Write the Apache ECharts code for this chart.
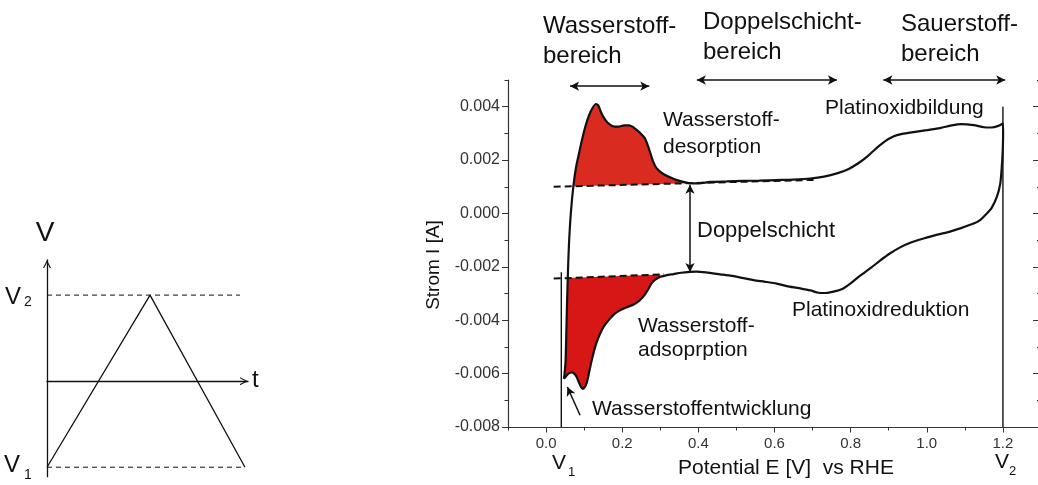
<!DOCTYPE html>
<html>
<head>
<meta charset="utf-8">
<title>Zyklovoltammogramm Platin</title>
<script src="https://cdn.jsdelivr.net/npm/echarts@6/dist/echarts.min.js"></script>
<style>
  html, body { margin: 0; padding: 0; overflow: hidden; background: #ffffff; }
  #chart { width: 1041px; height: 485px; }
</style>
</head>
<body>
<div id="chart"></div>
<script>
// ---- Cyclic voltammogram of Pt: potential E [V vs RHE], current I [A] ----

// forward (anodic) sweep from V1 up to V2
const anodicScan = [
  [0.047, -0.0062], [0.051, -0.0056], [0.053, -0.0046], [0.055, -0.0034], [0.057, -0.0024],
  [0.060, -0.0012], [0.065, 0.0000], [0.072, 0.00106], [0.079, 0.00175], [0.087, 0.00228],
  [0.095, 0.0028], [0.103, 0.00325], [0.112, 0.00365], [0.122, 0.00395], [0.131, 0.0041],
  [0.137, 0.00405], [0.144, 0.0038], [0.152, 0.00358], [0.162, 0.0034], [0.175, 0.00327],
  [0.190, 0.00325], [0.205, 0.0033], [0.218, 0.0033], [0.232, 0.0032], [0.246, 0.00303],
  [0.258, 0.00285], [0.266, 0.0026], [0.273, 0.0023], [0.281, 0.00195], [0.290, 0.0017],
  [0.302, 0.00154], [0.318, 0.0014], [0.336, 0.00129], [0.355, 0.0012], [0.375, 0.00114],
  [0.400, 0.00113], [0.431, 0.00118], [0.475, 0.0012], [0.518, 0.00122], [0.560, 0.00123],
  [0.606, 0.00125], [0.650, 0.00127], [0.694, 0.00131], [0.730, 0.00138], [0.764, 0.0015],
  [0.795, 0.00167], [0.820, 0.00188], [0.845, 0.00215], [0.868, 0.00245], [0.890, 0.0027],
  [0.912, 0.00288], [0.935, 0.00298], [0.965, 0.00305], [1.000, 0.00312], [1.035, 0.0032],
  [1.065, 0.0033], [1.090, 0.00335], [1.123, 0.00331], [1.150, 0.00323], [1.170, 0.00322],
  [1.188, 0.00328], [1.200, 0.00337]
];

// reverse (cathodic) sweep from V2 back down to V1
const cathodicScan = [
  [1.2005, 0.0030], [1.1995, 0.00237], [1.197, 0.00175], [1.193, 0.00112], [1.184, 0.00062],
  [1.170, 0.0002], [1.158, 0.0000], [1.140, -0.00025], [1.123, -0.00038], [1.090, -0.00055],
  [1.061, -0.00068], [1.025, -0.0008], [0.991, -0.00094], [0.960, -0.00108], [0.930, -0.00127],
  [0.903, -0.0015], [0.878, -0.00176], [0.852, -0.00205], [0.825, -0.00233], [0.800, -0.00262],
  [0.778, -0.00283], [0.755, -0.00293], [0.735, -0.00298], [0.715, -0.00297], [0.694, -0.00288],
  [0.665, -0.0028], [0.632, -0.00272], [0.606, -0.00263], [0.575, -0.00256], [0.545, -0.0025],
  [0.518, -0.00242], [0.488, -0.00234], [0.457, -0.00228], [0.420, -0.00221], [0.395, -0.00218],
  [0.378, -0.00219], [0.355, -0.00222], [0.335, -0.00227], [0.315, -0.00232], [0.300, -0.00237],
  [0.287, -0.00248], [0.277, -0.00262], [0.268, -0.00285], [0.258, -0.00307], [0.245, -0.00327],
  [0.229, -0.00342], [0.210, -0.00352], [0.194, -0.00363], [0.180, -0.00376], [0.168, -0.00394],
  [0.156, -0.00415], [0.146, -0.00438], [0.137, -0.00467], [0.129, -0.005], [0.122, -0.00538],
  [0.116, -0.00575], [0.111, -0.0061], [0.106, -0.00638], [0.101, -0.00652], [0.096, -0.00657],
  [0.091, -0.00648], [0.086, -0.00632], [0.080, -0.00612], [0.074, -0.006], [0.068, -0.00595],
  [0.061, -0.00598], [0.054, -0.00607], [0.047, -0.0062]
];

// double-layer charging baselines (dashed)
const upperBaseline = [[0.020, 0.00100], [0.710, 0.00126]];
const lowerBaseline = [[0.020, -0.00244], [0.310, -0.00228]];

// vertex potentials V1 and V2 [V]
const vertexPotentials = [0.04, 1.2];
const vertexMarkerTops = [-0.0022, 0.004];

// axis tick labels
const potentialTicks = [0, 0.2, 0.4, 0.6, 0.8, 1.0, 1.2];
const currentTicks = [-0.008, -0.006, -0.004, -0.002, 0, 0.002, 0.004];

// triangular potential program V(t), V1 = -1, V2 = +1 (schematic units)
const triangleWave = [[0, -1], [1.025, 1], [1.97, -1]];
const upperLevel = [[0, 1], [1.92, 1]];
const lowerLevel = [[0, -1], [1.97, -1]];

// ---------------------------------------------------------------------------
const FONT = "'Liberation Sans', Arial, Helvetica, sans-serif";
const INK = '#111111';
const AXIS = '#333333';

function baselineAt(line, x) {
  const [[x0, y0], [x1, y1]] = line;
  return y0 + (y1 - y0) * (x - x0) / (x1 - x0);
}

// hydrogen desorption area (above the upper baseline)
const desorptionArea = anodicScan
  .filter(p => p[0] >= 0.072 && p[0] <= 0.375)
  .concat([[0.375, baselineAt(upperBaseline, 0.375)], [0.072, baselineAt(upperBaseline, 0.072)]]);

// hydrogen adsorption area (below the lower baseline)
const adsorptionArea = [[0.057, baselineAt(lowerBaseline, 0.057)], [0.300, baselineAt(lowerBaseline, 0.300)]]
  .concat(cathodicScan.filter(p => p[0] <= 0.3001))
  .concat(anodicScan.filter(p => p[0] > 0.047 && p[1] < -0.0025));

function areaSeries(points, color) {
  return {
    type: 'custom', xAxisIndex: 0, yAxisIndex: 0, z: 1, silent: true,
    data: [[points[0][0], points[0][1]]],
    renderItem(params, api) {
      return {
        type: 'polygon',
        shape: { points: points.map(p => api.coord(p)) },
        style: { fill: color, stroke: null }
      };
    }
  };
}

const chevron = 'path://M0,10 L5,0 L10,10 L8.5,10 L5,3 L1.5,10 Z';

function text(str, x, y, size, extra) {
  return Object.assign({
    type: 'text', x: x, y: y, silent: true, z: 100,
    style: { text: str, fontSize: size, fontFamily: FONT, fill: INK, align: 'left', verticalAlign: 'middle' }
  }, extra || {});
}

const isEven = v => Math.round(v * 1000) % 2 === 0;

const option = {
  animation: false,
  backgroundColor: '#ffffff',
  grid: [
    { left: 508, top: 80, right: 0, bottom: 58, outerBoundsMode: 'none', containLabel: false },
    { left: 47, top: 260, width: 201, bottom: 8.3, outerBoundsMode: 'none', containLabel: false }
  ],
  xAxis: [
    { // potential axis: all 0.1 V ticks + labels
      gridIndex: 0, type: 'value', min: -0.1, max: 1.3, interval: 0.1, position: 'bottom',
      axisLine: { show: true, onZero: false, lineStyle: { color: AXIS, width: 1.2 } },
      axisTick: { show: true, inside: false, length: 3.5, lineStyle: { color: AXIS, width: 1 } },
      axisLabel: {
        show: true, margin: 9, fontSize: 15, fontFamily: FONT, color: AXIS,
        formatter: v => {
          const k = Math.round(v * 10);
          return (k >= 0 && k <= 12 && k % 2 === 0) ? (k / 10).toFixed(1) : '';
        }
      },
      splitLine: { show: false }, minorTick: { show: false }
    },
    { // major potential ticks
      gridIndex: 0, type: 'value', min: -0.1, max: 1.3, position: 'bottom',
      axisLine: { show: false, onZero: false },
      axisTick: { show: true, inside: false, length: 5.5, customValues: potentialTicks, lineStyle: { color: AXIS, width: 1 } },
      axisLabel: { show: false }, splitLine: { show: false }
    },
    { // time axis of the potential program
      gridIndex: 1, type: 'value', min: 0, max: 2,
      axisLine: {
        show: true, onZero: true, symbol: ['none', chevron], symbolSize: [10, 8], symbolOffset: [0, -4],
        lineStyle: { color: INK, width: 1.3 }
      },
      axisTick: { show: false }, axisLabel: { show: false }, splitLine: { show: false }
    }
  ],
  yAxis: [
    { // current axis: all 0.001 A ticks + labels
      gridIndex: 0, type: 'value', min: -0.008, max: 0.005, interval: 0.001, position: 'left',
      axisLine: { show: true, onZero: false, lineStyle: { color: AXIS, width: 1.2 } },
      axisTick: { show: true, inside: false, length: 3.5, lineStyle: { color: AXIS, width: 1 } },
      axisLabel: {
        show: true, margin: 8, fontSize: 16, fontFamily: FONT, color: AXIS,
        formatter: v => (isEven(v) && v < 0.0045) ? v.toFixed(3) : ''
      },
      splitLine: { show: false }
    },
    { // major current ticks
      gridIndex: 0, type: 'value', min: -0.008, max: 0.005, position: 'left',
      axisLine: { show: false, onZero: false },
      axisTick: { show: true, inside: false, length: 6, customValues: currentTicks, lineStyle: { color: AXIS, width: 1 } },
      axisLabel: { show: false }, splitLine: { show: false }
    },
    { // right frame, minor ticks
      gridIndex: 0, type: 'value', min: -0.008, max: 0.005, interval: 0.001, position: 'right',
      axisLine: { show: true, onZero: false, lineStyle: { color: AXIS, width: 1.2 } },
      axisTick: { show: true, inside: true, length: 4, lineStyle: { color: AXIS, width: 1 } },
      axisLabel: { show: false }, splitLine: { show: false }
    },
    { // right frame, major ticks
      gridIndex: 0, type: 'value', min: -0.008, max: 0.005, position: 'right',
      axisLine: { show: false, onZero: false },
      axisTick: { show: true, inside: true, length: 8, customValues: currentTicks, lineStyle: { color: AXIS, width: 1 } },
      axisLabel: { show: false }, splitLine: { show: false }
    },
    { // potential axis of the program V(t)
      gridIndex: 1, type: 'value', min: -1.11, max: 1.408,
      axisLine: {
        show: true, onZero: false, symbol: ['none', chevron], symbolSize: [10, 8], symbolOffset: [0, -4],
        lineStyle: { color: INK, width: 1.3 }
      },
      axisTick: { show: false }, axisLabel: { show: false }, splitLine: { show: false }
    }
  ],
  series: [
    areaSeries(desorptionArea, '#d92b1f'),
    areaSeries(adsorptionArea, '#d71616'),
    {
      name: 'Baseline oben', type: 'line', xAxisIndex: 0, yAxisIndex: 0, z: 3,
      data: upperBaseline, symbol: 'none', silent: true,
      lineStyle: { color: INK, width: 2, type: [7, 4] }
    },
    {
      name: 'Baseline unten', type: 'line', xAxisIndex: 0, yAxisIndex: 0, z: 3,
      data: lowerBaseline, symbol: 'none', silent: true,
      lineStyle: { color: INK, width: 2, type: [7, 4] }
    },
    {
      name: 'CV', type: 'line', xAxisIndex: 0, yAxisIndex: 0, z: 4,
      data: anodicScan.concat(cathodicScan), symbol: 'none', smooth: 0.25, silent: true,
      lineStyle: { color: INK, width: 2.2 }
    },
    {
      name: 'V1', type: 'line', xAxisIndex: 0, yAxisIndex: 0, z: 2,
      data: [[vertexPotentials[0], -0.008], [vertexPotentials[0], vertexMarkerTops[0]]],
      symbol: 'none', silent: true, lineStyle: { color: INK, width: 1.4 },
      markLine: {
        silent: true, symbol: ['arrow', 'arrow'], symbolSize: [7, 9],
        lineStyle: { type: 'solid', color: INK, width: 1.5 },
        label: { show: false }, emphasis: { disabled: true },
        data: [
          [{ coord: [0.063, 0.00477] }, { coord: [0.271, 0.00477] }],
          [{ coord: [0.396, 0.005] }, { coord: [0.764, 0.005] }],
          [{ coord: [0.886, 0.005] }, { coord: [1.206, 0.005] }],
          [{ coord: [0.378, 0.00108] }, { coord: [0.378, -0.00219] }],
          [{ coord: [0.0893, -0.00756], symbol: 'none' }, { coord: [0.056, -0.0065], symbol: 'arrow' }]
        ]
      }
    },
    {
      name: 'V2', type: 'line', xAxisIndex: 0, yAxisIndex: 0, z: 2,
      data: [[vertexPotentials[1], -0.008], [vertexPotentials[1], vertexMarkerTops[1]]],
      symbol: 'none', silent: true, lineStyle: { color: INK, width: 1.4 }
    },
    {
      name: 'V(t)', type: 'line', xAxisIndex: 2, yAxisIndex: 4,
      data: triangleWave, symbol: 'none', silent: true, lineStyle: { color: INK, width: 1.3 }
    },
    {
      name: 'V2-Niveau', type: 'line', xAxisIndex: 2, yAxisIndex: 4,
      data: upperLevel, symbol: 'none', silent: true, lineStyle: { color: INK, width: 1, type: [5, 4] }
    },
    {
      name: 'V1-Niveau', type: 'line', xAxisIndex: 2, yAxisIndex: 4,
      data: lowerLevel, symbol: 'none', silent: true, lineStyle: { color: INK, width: 1, type: [5, 4] }
    }
  ],
  graphic: {
    elements: [
      // region headers
      text('Wasserstoff-', 543, 26, 24),
      text('bereich', 543, 56, 24),
      text('Doppelschicht-', 703, 22, 24),
      text('bereich', 703, 52, 24),
      text('Sauerstoff-', 901, 24, 24),
      text('bereich', 901, 54, 24),
      // process annotations
      text('Wasserstoff-', 663, 120, 21),
      text('desorption', 663, 147, 21),
      text('Platinoxidbildung', 825, 108, 21),
      text('Doppelschicht', 697, 231, 22),
      text('Platinoxidreduktion', 792, 310, 21),
      text('Wasserstoff-', 638, 326, 21),
      text('adsoprption', 638, 350, 21),
      text('Wasserstoffentwicklung', 592, 409, 21),
      // axis titles
      text('Potential E [V]  vs RHE', 678, 468, 21),
      text('Strom I [A]', 434, 265, 19, { rotation: Math.PI / 2, style: { text: 'Strom I [A]', fontSize: 19, fontFamily: FONT, fill: INK, align: 'center', verticalAlign: 'middle' } }),
      // vertex potentials on the potential axis
      text('V', 552, 463.5, 21),
      text('1', 568, 472, 13),
      text('V', 995, 462.5, 21),
      text('2', 1009, 471, 13),
      // potential program V(t)
      text('V', 45, 233, 28, { style: { text: 'V', fontSize: 28, fontFamily: FONT, fill: INK, align: 'center', verticalAlign: 'middle' } }),
      text('t', 252, 380, 24),
      text('V', 5, 297.5, 24),
      text('2', 24, 302.5, 14),
      text('V', 4, 465.5, 24),
      text('1', 24, 475, 14)
    ]
  }
};

const chart = echarts.init(document.getElementById('chart'), null, { renderer: 'canvas' });
chart.setOption(option);
</script>
</body>
</html>
